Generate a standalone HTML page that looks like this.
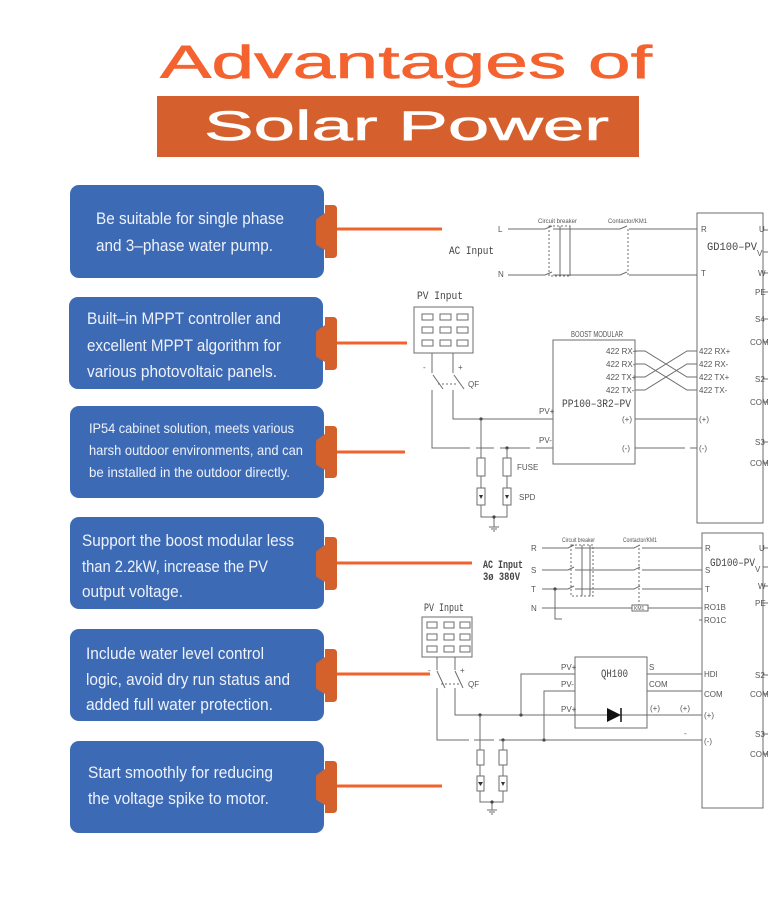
<!DOCTYPE html>
<html><head><meta charset="utf-8"><style>
html,body{margin:0;padding:0;background:#fff;}
svg{display:block;}
.bt{font-family:"Liberation Sans",sans-serif;fill:#eef2fa;font-size:17px;}
.sm{font-family:"Liberation Sans Narrow","Liberation Sans",sans-serif;fill:#555;font-size:8px;}
.tn{font-family:"Liberation Sans Narrow","Liberation Sans",sans-serif;fill:#555;font-size:6px;}
.mo{font-family:"Liberation Mono",monospace;fill:#444;font-size:11px;}
.ln{stroke:#6d6d6d;stroke-width:1;fill:none;}
.ds{stroke:#6d6d6d;stroke-width:1;fill:none;stroke-dasharray:2,2;}
.or{stroke:#f2622e;stroke-width:3;}
.tab{fill:#d4602c;}
.bx{fill:#3d6ab5;}
</style></head><body>
<svg width="768" height="910" viewBox="0 0 768 910" xmlns="http://www.w3.org/2000/svg">
<rect width="768" height="910" fill="#fff"/>
<!-- Title -->
<text x="160" y="78" textLength="492" lengthAdjust="spacingAndGlyphs" font-family="Liberation Sans, sans-serif" font-weight="400" font-size="46" fill="#f4622f" stroke="#f4622f" stroke-width="0.6">Advantages of</text>
<rect x="157" y="96" width="482" height="61" fill="#d5602d"/>
<text x="204" y="140" textLength="405" lengthAdjust="spacingAndGlyphs" font-family="Liberation Sans, sans-serif" font-weight="400" font-size="42" fill="#fff" stroke="#fff" stroke-width="0.6">Solar Power</text>

<!-- Boxes with tabs -->
<g>
<rect class="bx" x="70" y="185" width="254" height="93" rx="9"/>
<path class="tab" d="M325,205 H333 Q337,205 337,209 V254 Q337,258 333,258 H325 V250 L318,246 Q316,245 316,243 V221 Q316,219 318,218 L325,213 Z"/>
<line class="or" x1="337" y1="229" x2="442" y2="229"/>
<text class="bt" x="96" y="224" textLength="188" lengthAdjust="spacingAndGlyphs">Be suitable for single phase</text>
<text class="bt" x="96" y="251" textLength="177" lengthAdjust="spacingAndGlyphs">and 3–phase water pump.</text>
</g>
<g>
<rect class="bx" x="69" y="297" width="254" height="92" rx="9"/>
<path class="tab" d="M325,317 H333 Q337,317 337,321 V366 Q337,370 333,370 H325 V362 L318,358 Q316,357 316,355 V333 Q316,331 318,330 L325,325 Z"/>
<line class="or" x1="337" y1="343" x2="407" y2="343"/>
<text class="bt" x="87" y="324" textLength="194" lengthAdjust="spacingAndGlyphs">Built–in MPPT controller and</text>
<text class="bt" x="87" y="351" textLength="194" lengthAdjust="spacingAndGlyphs">excellent MPPT algorithm for</text>
<text class="bt" x="87" y="377" textLength="190" lengthAdjust="spacingAndGlyphs">various photovoltaic panels.</text>
</g>
<g>
<rect class="bx" x="70" y="406" width="254" height="92" rx="9"/>
<path class="tab" d="M325,426 H333 Q337,426 337,430 V474 Q337,478 333,478 H325 V470 L318,466 Q316,465 316,463 V442 Q316,440 318,439 L325,434 Z"/>
<line class="or" x1="337" y1="452" x2="405" y2="452"/>
<text class="bt" style="font-size:14px" x="89" y="433" textLength="205" lengthAdjust="spacingAndGlyphs">IP54 cabinet solution, meets various</text>
<text class="bt" style="font-size:14px" x="89" y="455" textLength="214" lengthAdjust="spacingAndGlyphs">harsh outdoor environments, and can</text>
<text class="bt" style="font-size:14px" x="89" y="477" textLength="201" lengthAdjust="spacingAndGlyphs">be installed in the outdoor directly.</text>
</g>
<g>
<rect class="bx" x="70" y="517" width="254" height="92" rx="9"/>
<path class="tab" d="M325,537 H333 Q337,537 337,541 V586 Q337,590 333,590 H325 V582 L318,578 Q316,577 316,575 V553 Q316,551 318,550 L325,545 Z"/>
<line class="or" x1="337" y1="563" x2="472" y2="563"/>
<text class="bt" x="82" y="546" textLength="212" lengthAdjust="spacingAndGlyphs">Support the boost modular less</text>
<text class="bt" x="82" y="572" textLength="186" lengthAdjust="spacingAndGlyphs">than 2.2kW, increase the PV</text>
<text class="bt" x="82" y="597" textLength="101" lengthAdjust="spacingAndGlyphs">output voltage.</text>
</g>
<g>
<rect class="bx" x="70" y="629" width="254" height="92" rx="9"/>
<path class="tab" d="M325,649 H333 Q337,649 337,653 V698 Q337,702 333,702 H325 V694 L318,690 Q316,689 316,687 V665 Q316,663 318,662 L325,657 Z"/>
<line class="or" x1="337" y1="674" x2="430" y2="674"/>
<text class="bt" x="86" y="659" textLength="178" lengthAdjust="spacingAndGlyphs">Include water level control</text>
<text class="bt" x="86" y="685" textLength="204" lengthAdjust="spacingAndGlyphs">logic, avoid dry run status and</text>
<text class="bt" x="86" y="710" textLength="187" lengthAdjust="spacingAndGlyphs">added full water protection.</text>
</g>
<g>
<rect class="bx" x="70" y="741" width="254" height="92" rx="9"/>
<path class="tab" d="M325,761 H333 Q337,761 337,765 V809 Q337,813 333,813 H325 V805 L318,801 Q316,800 316,798 V777 Q316,775 318,774 L325,769 Z"/>
<line class="or" x1="337" y1="786" x2="442" y2="786"/>
<text class="bt" x="88" y="778" textLength="185" lengthAdjust="spacingAndGlyphs">Start smoothly for reducing</text>
<text class="bt" x="88" y="804" textLength="181" lengthAdjust="spacingAndGlyphs">the voltage spike to motor.</text>
</g>

<!-- ============ Diagram A ============ -->
<g>
<text class="tn" x="538" y="223" textLength="39" lengthAdjust="spacingAndGlyphs">Circuit breaker</text>
<text class="tn" x="608" y="223" textLength="39" lengthAdjust="spacingAndGlyphs">Contactor/KM1</text>
<text class="sm" x="498" y="232">L</text>
<text class="sm" x="498" y="277">N</text>
<text class="mo" x="449" y="254" textLength="45" lengthAdjust="spacingAndGlyphs">AC Input</text>
<path class="ln" d="M508,229 H545 L552,226 M553,229 H620 L627,226 M629,229 H697"/>
<path class="ln" d="M508,275 H545 L552,272 M553,275 H620 L627,272 M629,275 H697"/>
<rect class="ds" x="549" y="226" width="21" height="50"/>
<path class="ln" d="M560,226 V276 M570,226 V276"/>
<path class="ds" d="M628,229 V275"/>
<!-- GD box A -->
<rect class="ln" x="697" y="213" width="66" height="310"/>
<path class="ln" d="M763,230 H768 M763,252 H768 M763,273 H768 M763,292 H768 M763,319 H768 M763,342 H768 M763,379 H768 M763,402 H768 M763,442 H768 M763,463 H768"/>
<text class="mo" x="707" y="250" textLength="50" lengthAdjust="spacingAndGlyphs">GD100–PV</text>
<text class="sm" x="757" y="256">V</text>
<text class="sm" x="701" y="232">R</text>
<text class="sm" x="701" y="276">T</text>
<text class="sm" x="759" y="232">U</text>
<text class="sm" x="758" y="276">W</text>
<text class="sm" x="755" y="295">PE</text>
<text class="sm" x="755" y="322">S4</text>
<text class="sm" x="750" y="345">COM</text>
<text class="sm" x="755" y="382">S2</text>
<text class="sm" x="750" y="405">COM</text>
<text class="sm" x="755" y="445">S3</text>
<text class="sm" x="750" y="466">COM</text>
<text class="sm" x="699" y="354">422 RX+</text>
<text class="sm" x="699" y="367">422 RX-</text>
<text class="sm" x="699" y="380">422 TX+</text>
<text class="sm" x="699" y="393">422 TX-</text>
<text class="sm" x="699" y="422">(+)</text>
<text class="sm" x="699" y="451">(-)</text>
<!-- PV panel A -->
<text class="mo" x="417" y="299" textLength="46" lengthAdjust="spacingAndGlyphs">PV Input</text>
<rect class="ln" x="414" y="307" width="59" height="46"/>
<g class="ln">
<rect x="422" y="314" width="11" height="6"/><rect x="440" y="314" width="11" height="6"/><rect x="457" y="314" width="11" height="6"/>
<rect x="422" y="327" width="11" height="6"/><rect x="440" y="327" width="11" height="6"/><rect x="457" y="327" width="11" height="6"/>
<rect x="422" y="340" width="11" height="6"/><rect x="440" y="340" width="11" height="6"/><rect x="457" y="340" width="11" height="6"/>
</g>
<text class="sm" x="423" y="370">-</text>
<text class="sm" x="458" y="370">+</text>
<text class="sm" x="468" y="387">QF</text>
<path class="ln" d="M432,353 V373 M433,375 L443,389 M453,353 V373 M454,375 L464,389"/>
<path class="ds" d="M438,384 H458"/>
<path class="ln" d="M453,390 V419 H553"/>
<path class="ln" d="M432,390 V448 H470 M476,448 H494 M500,448 H530 M536,448 H553"/>
<circle cx="481" cy="419" r="1.6" fill="#444"/>
<circle cx="507" cy="448" r="1.6" fill="#444"/>
<path class="ln" d="M481,419 V458 M481,476 V488 M481,505 V517 H507 V505 M507,488 V476 M507,458 V448 M494,517 V527 M489,527 H499 M491,529 H497 M493,531 H495"/>
<circle cx="494" cy="517" r="1.6" fill="#444"/>
<rect class="ln" x="477" y="458" width="8" height="18"/>
<rect class="ln" x="503" y="458" width="8" height="18"/>
<rect class="ln" x="477" y="488" width="8" height="17"/>
<rect class="ln" x="503" y="488" width="8" height="17"/>
<path d="M479,495 H483 L481,499 Z M505,495 H509 L507,499 Z" fill="#333"/>
<text class="sm" x="517" y="470">FUSE</text>
<text class="sm" x="519" y="500">SPD</text>
<!-- Boost box -->
<text class="sm" x="571" y="337" textLength="52" lengthAdjust="spacingAndGlyphs">BOOST MODULAR</text>
<rect class="ln" x="553" y="340" width="82" height="124"/>
<text class="sm" x="606" y="354">422 RX+</text>
<text class="sm" x="606" y="367">422 RX-</text>
<text class="sm" x="606" y="380">422 TX+</text>
<text class="sm" x="606" y="393">422 TX-</text>
<text class="mo" x="562" y="407" textLength="69" lengthAdjust="spacingAndGlyphs">PP100–3R2–PV</text>
<text class="sm" x="622" y="422">(+)</text>
<text class="sm" x="622" y="451">(-)</text>
<text class="sm" x="539" y="414">PV+</text>
<text class="sm" x="539" y="443">PV-</text>
<path class="ln" d="M635,351 H645 L687,377 H697 M635,364 H645 L687,390 H697 M635,377 H645 L687,351 H697 M635,390 H645 L687,364 H697"/>
<path class="ln" d="M635,419 H697 M635,448 H685 M690,448 H697"/>
</g>

<!-- ============ Diagram B ============ -->
<g>
<text class="tn" x="562" y="542" textLength="33" lengthAdjust="spacingAndGlyphs">Circuit breaker</text>
<text class="tn" x="623" y="542" textLength="34" lengthAdjust="spacingAndGlyphs">Contactor/KM1</text>
<text class="sm" x="531" y="551">R</text>
<text class="sm" x="531" y="573">S</text>
<text class="sm" x="531" y="592">T</text>
<text class="sm" x="531" y="611">N</text>
<text class="mo" x="483" y="568" font-weight="700" textLength="40" lengthAdjust="spacingAndGlyphs">AC Input</text>
<text class="mo" x="483" y="580" font-weight="700" textLength="37" lengthAdjust="spacingAndGlyphs">3ø 380V</text>
<path class="ln" d="M542,548 H568 L574,545 M575,548 H634 L640,545 M642,548 H702"/>
<path class="ln" d="M542,570 H568 L574,567 M575,570 H634 L640,567 M642,570 H702"/>
<path class="ln" d="M542,589 H568 L574,586 M575,589 H634 L640,586 M642,589 H702"/>
<path class="ln" d="M542,608 H632 M648,608 H702"/>
<rect class="ds" x="571" y="545" width="22" height="51"/>
<path class="ln" d="M582,545 V596 M590,545 V596"/>
<path class="ds" d="M639,548 V605"/>
<rect class="ln" x="632" y="605" width="16" height="6"/>
<text class="tn" x="634" y="610" style="font-size:5px">KM1</text>
<circle cx="555" cy="589" r="1.6" fill="#444"/>
<path class="ln" d="M555,589 V619 H562"/>
<!-- GD box B -->
<rect class="ln" x="702" y="533" width="61" height="275"/>
<path class="ln" d="M763,548 H768 M763,567 H768 M763,586 H768 M763,603 H768 M763,675 H768 M763,694 H768 M763,734 H768 M763,754 H768 M699,620 H702"/>
<text class="mo" x="710" y="566" textLength="45" lengthAdjust="spacingAndGlyphs">GD100–PV</text>
<text class="sm" x="755" y="572">V</text>
<text class="sm" x="705" y="551">R</text>
<text class="sm" x="705" y="573">S</text>
<text class="sm" x="705" y="592">T</text>
<text class="sm" x="704" y="610">RO1B</text>
<text class="sm" x="704" y="623">RO1C</text>
<text class="sm" x="759" y="551">U</text>
<text class="sm" x="758" y="589">W</text>
<text class="sm" x="755" y="606">PE</text>
<text class="sm" x="704" y="677">HDI</text>
<text class="sm" x="704" y="697">COM</text>
<text class="sm" x="704" y="718">(+)</text>
<text class="sm" x="704" y="744">(-)</text>
<text class="sm" x="755" y="678">S2</text>
<text class="sm" x="750" y="697">COM</text>
<text class="sm" x="755" y="737">S3</text>
<text class="sm" x="750" y="757">COM</text>
<!-- PV panel B -->
<text class="mo" x="424" y="611" textLength="40" lengthAdjust="spacingAndGlyphs">PV Input</text>
<rect class="ln" x="422" y="617" width="50" height="40"/>
<g class="ln">
<rect x="427" y="622" width="10" height="6"/><rect x="444" y="622" width="10" height="6"/><rect x="460" y="622" width="10" height="6"/>
<rect x="427" y="634" width="10" height="6"/><rect x="444" y="634" width="10" height="6"/><rect x="460" y="634" width="10" height="6"/>
<rect x="427" y="646" width="10" height="6"/><rect x="444" y="646" width="10" height="6"/><rect x="460" y="646" width="10" height="6"/>
</g>
<text class="sm" x="428" y="673">-</text>
<text class="sm" x="460" y="673">+</text>
<text class="sm" x="468" y="687">QF</text>
<path class="ln" d="M437,657 V670 M437,671 L445,688 M455,657 V670 M455,671 L463,688"/>
<path class="ds" d="M441,684 H460"/>
<path class="ln" d="M437,688 V740 H469 M474,740 H494 M499,740 H702"/>
<path class="ln" d="M455,688 V715 H607 M621,715 H702"/>
<path d="M607,708 L621,715 L607,722 Z" fill="#111"/>
<path class="ln" d="M621,708 V722" style="stroke:#111;stroke-width:1.5"/>
<circle cx="480" cy="715" r="1.6" fill="#444"/>
<circle cx="521" cy="715" r="1.6" fill="#444"/>
<circle cx="503" cy="740" r="1.6" fill="#444"/>
<circle cx="544" cy="740" r="1.6" fill="#444"/>
<path class="ln" d="M521,715 V674 H575 M544,740 V691 H575"/>
<rect class="ln" x="575" y="657" width="72" height="71"/>
<text class="mo" x="601" y="677" textLength="27" lengthAdjust="spacingAndGlyphs">QH100</text>
<text class="sm" x="561" y="670">PV+</text>
<text class="sm" x="561" y="687">PV-</text>
<text class="sm" x="561" y="712">PV+</text>
<text class="sm" x="649" y="670">S</text>
<text class="sm" x="649" y="687">COM</text>
<text class="sm" x="650" y="711">(+)</text>
<text class="sm" x="680" y="711">(+)</text>
<text class="sm" x="684" y="736">-</text>
<path class="ln" d="M647,674 H702 M647,691 H702"/>
<path class="ln" d="M480,715 V750 M480,765 V776 M480,791 V802 H503 V791 M503,776 V765 M503,750 V740 M492,802 V810 M487,810 H497 M489,812 H495 M491,814 H493"/>
<circle cx="492" cy="802" r="1.6" fill="#444"/>
<rect class="ln" x="477" y="750" width="7" height="15"/>
<rect class="ln" x="499" y="750" width="8" height="15"/>
<rect class="ln" x="477" y="776" width="7" height="15"/>
<rect class="ln" x="499" y="776" width="8" height="15"/>
<path d="M478,782 H483 L480.5,786 Z M501,782 H505 L503,786 Z" fill="#333"/>
</g>
</svg>
</body></html>
